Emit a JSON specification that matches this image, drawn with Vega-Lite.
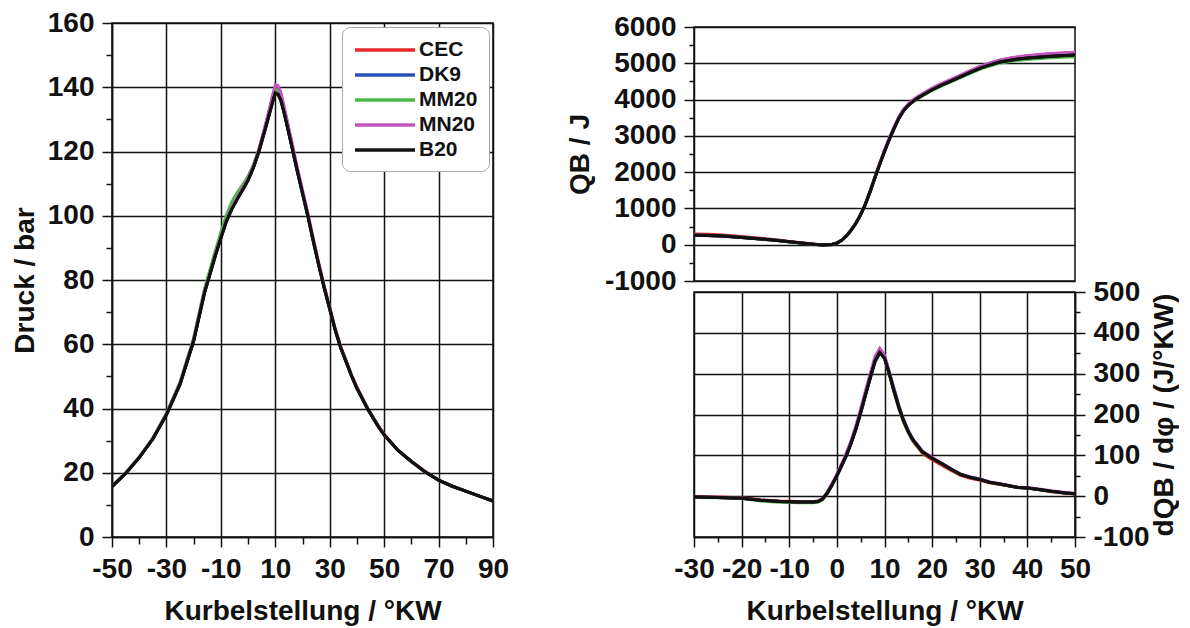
{
"$schema": "https://vega.github.io/schema/vega-lite/v6.json",
"background": "white",
"padding": {"left": 10, "top": 8, "right": 0, "bottom": 0},
"config": {
  "view": {"stroke": "#111", "strokeWidth": 1.5},
  "font": "Liberation Sans",
  "axis": {"labelFont": "Liberation Sans", "labelFontSize": 28, "labelFontWeight": "bold", "labelColor": "#111", "titleFont": "Liberation Sans", "titleFontSize": 28, "titleFontWeight": "bold", "titleColor": "#111", "tickColor": "#111", "tickWidth": 1.5, "domainColor": "#111", "domainWidth": 1.5, "gridColor": "#111", "gridWidth": 1.5, "gridOpacity": 1, "labelFlush": false, "labelOverlap": false, "labelBound": false, "labelPadding": 8, "tickSize": 10}
},
"datasets": {
"pressure": [
{"angle":-50,"fuel":"CEC","p":15.8},{"angle":-45,"fuel":"CEC","p":19.9},{"angle":-40,"fuel":"CEC","p":24.8},{"angle":-35,"fuel":"CEC","p":30.7},{"angle":-30,"fuel":"CEC","p":38.3},{"angle":-25,"fuel":"CEC","p":47.9},{"angle":-20,"fuel":"CEC","p":61.5},{"angle":-16,"fuel":"CEC","p":76.5},{"angle":-12,"fuel":"CEC","p":88.1},{"angle":-10,"fuel":"CEC","p":93.5},{"angle":-8,"fuel":"CEC","p":98.7},{"angle":-6,"fuel":"CEC","p":102.6},{"angle":-4,"fuel":"CEC","p":105.7},{"angle":-2,"fuel":"CEC","p":108.6},{"angle":0,"fuel":"CEC","p":111.6},{"angle":2,"fuel":"CEC","p":115.6},{"angle":4,"fuel":"CEC","p":120.6},{"angle":6,"fuel":"CEC","p":126.8},{"angle":8,"fuel":"CEC","p":133.4},{"angle":9,"fuel":"CEC","p":136.9},{"angle":10,"fuel":"CEC","p":140.1},{"angle":11,"fuel":"CEC","p":139.9},{"angle":12,"fuel":"CEC","p":138.0},{"angle":13,"fuel":"CEC","p":134.4},{"angle":14,"fuel":"CEC","p":130.6},{"angle":16,"fuel":"CEC","p":122.7},{"angle":18,"fuel":"CEC","p":114.8},{"angle":20,"fuel":"CEC","p":107.5},{"angle":22,"fuel":"CEC","p":100.2},{"angle":24,"fuel":"CEC","p":92.4},{"angle":26,"fuel":"CEC","p":84.9},{"angle":28,"fuel":"CEC","p":77.9},{"angle":30,"fuel":"CEC","p":71.3},{"angle":32,"fuel":"CEC","p":64.8},{"angle":34,"fuel":"CEC","p":59.3},{"angle":36,"fuel":"CEC","p":54.8},{"angle":38,"fuel":"CEC","p":50.4},{"angle":40,"fuel":"CEC","p":46.5},{"angle":44,"fuel":"CEC","p":39.9},{"angle":48,"fuel":"CEC","p":34.3},{"angle":50,"fuel":"CEC","p":31.9},{"angle":55,"fuel":"CEC","p":27.1},{"angle":60,"fuel":"CEC","p":23.6},{"angle":65,"fuel":"CEC","p":20.4},{"angle":70,"fuel":"CEC","p":17.7},{"angle":75,"fuel":"CEC","p":15.8},{"angle":80,"fuel":"CEC","p":14.3},{"angle":85,"fuel":"CEC","p":12.7},{"angle":90,"fuel":"CEC","p":11.2},
{"angle":-50,"fuel":"DK9","p":15.7},{"angle":-45,"fuel":"DK9","p":19.8},{"angle":-40,"fuel":"DK9","p":24.7},{"angle":-35,"fuel":"DK9","p":30.6},{"angle":-30,"fuel":"DK9","p":38.1},{"angle":-25,"fuel":"DK9","p":47.7},{"angle":-20,"fuel":"DK9","p":61.2},{"angle":-16,"fuel":"DK9","p":76.3},{"angle":-12,"fuel":"DK9","p":87.9},{"angle":-10,"fuel":"DK9","p":93.3},{"angle":-8,"fuel":"DK9","p":98.5},{"angle":-6,"fuel":"DK9","p":102.3},{"angle":-4,"fuel":"DK9","p":105.4},{"angle":-2,"fuel":"DK9","p":108.3},{"angle":0,"fuel":"DK9","p":111.3},{"angle":2,"fuel":"DK9","p":115.3},{"angle":4,"fuel":"DK9","p":120.3},{"angle":6,"fuel":"DK9","p":126.4},{"angle":8,"fuel":"DK9","p":132.8},{"angle":9,"fuel":"DK9","p":136.2},{"angle":10,"fuel":"DK9","p":139.3},{"angle":11,"fuel":"DK9","p":139.0},{"angle":12,"fuel":"DK9","p":137.0},{"angle":13,"fuel":"DK9","p":133.6},{"angle":14,"fuel":"DK9","p":129.8},{"angle":16,"fuel":"DK9","p":122.1},{"angle":18,"fuel":"DK9","p":114.4},{"angle":20,"fuel":"DK9","p":107.2},{"angle":22,"fuel":"DK9","p":99.9},{"angle":24,"fuel":"DK9","p":92.1},{"angle":26,"fuel":"DK9","p":84.6},{"angle":28,"fuel":"DK9","p":77.6},{"angle":30,"fuel":"DK9","p":71.1},{"angle":32,"fuel":"DK9","p":64.6},{"angle":34,"fuel":"DK9","p":59.1},{"angle":36,"fuel":"DK9","p":54.7},{"angle":38,"fuel":"DK9","p":50.2},{"angle":40,"fuel":"DK9","p":46.3},{"angle":44,"fuel":"DK9","p":39.8},{"angle":48,"fuel":"DK9","p":34.2},{"angle":50,"fuel":"DK9","p":31.8},{"angle":55,"fuel":"DK9","p":27.0},{"angle":60,"fuel":"DK9","p":23.5},{"angle":65,"fuel":"DK9","p":20.3},{"angle":70,"fuel":"DK9","p":17.7},{"angle":75,"fuel":"DK9","p":15.8},{"angle":80,"fuel":"DK9","p":14.3},{"angle":85,"fuel":"DK9","p":12.7},{"angle":90,"fuel":"DK9","p":11.2},
{"angle":-50,"fuel":"MM20","p":15.7},{"angle":-45,"fuel":"MM20","p":19.9},{"angle":-40,"fuel":"MM20","p":24.9},{"angle":-35,"fuel":"MM20","p":30.8},{"angle":-30,"fuel":"MM20","p":38.5},{"angle":-25,"fuel":"MM20","p":48.3},{"angle":-20,"fuel":"MM20","p":62.0},{"angle":-16,"fuel":"MM20","p":77.3},{"angle":-12,"fuel":"MM20","p":89.2},{"angle":-10,"fuel":"MM20","p":94.8},{"angle":-8,"fuel":"MM20","p":100.2},{"angle":-6,"fuel":"MM20","p":104.3},{"angle":-4,"fuel":"MM20","p":107.2},{"angle":-2,"fuel":"MM20","p":109.7},{"angle":0,"fuel":"MM20","p":112.3},{"angle":2,"fuel":"MM20","p":116.0},{"angle":4,"fuel":"MM20","p":120.8},{"angle":6,"fuel":"MM20","p":126.8},{"angle":8,"fuel":"MM20","p":133.2},{"angle":9,"fuel":"MM20","p":136.5},{"angle":10,"fuel":"MM20","p":139.5},{"angle":11,"fuel":"MM20","p":139.0},{"angle":12,"fuel":"MM20","p":137.0},{"angle":13,"fuel":"MM20","p":133.4},{"angle":14,"fuel":"MM20","p":129.6},{"angle":16,"fuel":"MM20","p":121.8},{"angle":18,"fuel":"MM20","p":114.0},{"angle":20,"fuel":"MM20","p":106.8},{"angle":22,"fuel":"MM20","p":99.6},{"angle":24,"fuel":"MM20","p":91.8},{"angle":26,"fuel":"MM20","p":84.3},{"angle":28,"fuel":"MM20","p":77.3},{"angle":30,"fuel":"MM20","p":70.8},{"angle":32,"fuel":"MM20","p":64.3},{"angle":34,"fuel":"MM20","p":58.9},{"angle":36,"fuel":"MM20","p":54.5},{"angle":38,"fuel":"MM20","p":50.1},{"angle":40,"fuel":"MM20","p":46.2},{"angle":44,"fuel":"MM20","p":39.7},{"angle":48,"fuel":"MM20","p":34.2},{"angle":50,"fuel":"MM20","p":31.8},{"angle":55,"fuel":"MM20","p":27.0},{"angle":60,"fuel":"MM20","p":23.5},{"angle":65,"fuel":"MM20","p":20.3},{"angle":70,"fuel":"MM20","p":17.7},{"angle":75,"fuel":"MM20","p":15.8},{"angle":80,"fuel":"MM20","p":14.3},{"angle":85,"fuel":"MM20","p":12.7},{"angle":90,"fuel":"MM20","p":11.2},
{"angle":-50,"fuel":"MN20","p":15.8},{"angle":-45,"fuel":"MN20","p":19.9},{"angle":-40,"fuel":"MN20","p":24.8},{"angle":-35,"fuel":"MN20","p":30.7},{"angle":-30,"fuel":"MN20","p":38.3},{"angle":-25,"fuel":"MN20","p":47.9},{"angle":-20,"fuel":"MN20","p":61.5},{"angle":-16,"fuel":"MN20","p":76.5},{"angle":-12,"fuel":"MN20","p":88.1},{"angle":-10,"fuel":"MN20","p":93.5},{"angle":-8,"fuel":"MN20","p":98.7},{"angle":-6,"fuel":"MN20","p":102.6},{"angle":-4,"fuel":"MN20","p":105.7},{"angle":-2,"fuel":"MN20","p":108.6},{"angle":0,"fuel":"MN20","p":111.6},{"angle":2,"fuel":"MN20","p":115.6},{"angle":4,"fuel":"MN20","p":120.7},{"angle":6,"fuel":"MN20","p":127.0},{"angle":8,"fuel":"MN20","p":133.8},{"angle":9,"fuel":"MN20","p":137.5},{"angle":10,"fuel":"MN20","p":140.7},{"angle":11,"fuel":"MN20","p":140.5},{"angle":12,"fuel":"MN20","p":138.5},{"angle":13,"fuel":"MN20","p":134.9},{"angle":14,"fuel":"MN20","p":131.1},{"angle":16,"fuel":"MN20","p":123.3},{"angle":18,"fuel":"MN20","p":115.4},{"angle":20,"fuel":"MN20","p":108.0},{"angle":22,"fuel":"MN20","p":100.7},{"angle":24,"fuel":"MN20","p":92.8},{"angle":26,"fuel":"MN20","p":85.2},{"angle":28,"fuel":"MN20","p":78.1},{"angle":30,"fuel":"MN20","p":71.5},{"angle":32,"fuel":"MN20","p":64.9},{"angle":34,"fuel":"MN20","p":59.4},{"angle":36,"fuel":"MN20","p":55.0},{"angle":38,"fuel":"MN20","p":50.5},{"angle":40,"fuel":"MN20","p":46.6},{"angle":44,"fuel":"MN20","p":40.0},{"angle":48,"fuel":"MN20","p":34.4},{"angle":50,"fuel":"MN20","p":32.0},{"angle":55,"fuel":"MN20","p":27.1},{"angle":60,"fuel":"MN20","p":23.6},{"angle":65,"fuel":"MN20","p":20.4},{"angle":70,"fuel":"MN20","p":17.8},{"angle":75,"fuel":"MN20","p":15.9},{"angle":80,"fuel":"MN20","p":14.3},{"angle":85,"fuel":"MN20","p":12.7},{"angle":90,"fuel":"MN20","p":11.2},
{"angle":-50,"fuel":"B20","p":15.7},{"angle":-45,"fuel":"B20","p":19.8},{"angle":-40,"fuel":"B20","p":24.7},{"angle":-35,"fuel":"B20","p":30.5},{"angle":-30,"fuel":"B20","p":38.0},{"angle":-25,"fuel":"B20","p":47.5},{"angle":-20,"fuel":"B20","p":61.0},{"angle":-16,"fuel":"B20","p":76.0},{"angle":-12,"fuel":"B20","p":87.6},{"angle":-10,"fuel":"B20","p":93.0},{"angle":-8,"fuel":"B20","p":98.2},{"angle":-6,"fuel":"B20","p":102.0},{"angle":-4,"fuel":"B20","p":105.1},{"angle":-2,"fuel":"B20","p":108.0},{"angle":0,"fuel":"B20","p":111.0},{"angle":2,"fuel":"B20","p":115.0},{"angle":4,"fuel":"B20","p":120.0},{"angle":6,"fuel":"B20","p":126.0},{"angle":8,"fuel":"B20","p":132.2},{"angle":9,"fuel":"B20","p":135.3},{"angle":10,"fuel":"B20","p":138.2},{"angle":11,"fuel":"B20","p":137.8},{"angle":12,"fuel":"B20","p":136.0},{"angle":13,"fuel":"B20","p":132.8},{"angle":14,"fuel":"B20","p":129.3},{"angle":16,"fuel":"B20","p":121.8},{"angle":18,"fuel":"B20","p":114.2},{"angle":20,"fuel":"B20","p":107.0},{"angle":22,"fuel":"B20","p":99.8},{"angle":24,"fuel":"B20","p":92.0},{"angle":26,"fuel":"B20","p":84.5},{"angle":28,"fuel":"B20","p":77.5},{"angle":30,"fuel":"B20","p":71.0},{"angle":32,"fuel":"B20","p":64.5},{"angle":34,"fuel":"B20","p":59.0},{"angle":36,"fuel":"B20","p":54.6},{"angle":38,"fuel":"B20","p":50.2},{"angle":40,"fuel":"B20","p":46.3},{"angle":44,"fuel":"B20","p":39.8},{"angle":48,"fuel":"B20","p":34.2},{"angle":50,"fuel":"B20","p":31.8},{"angle":55,"fuel":"B20","p":27.0},{"angle":60,"fuel":"B20","p":23.5},{"angle":65,"fuel":"B20","p":20.3},{"angle":70,"fuel":"B20","p":17.7},{"angle":75,"fuel":"B20","p":15.8},{"angle":80,"fuel":"B20","p":14.3},{"angle":85,"fuel":"B20","p":12.7},{"angle":90,"fuel":"B20","p":11.2}
],
"heat": [
{"angle":-30,"fuel":"CEC","q":292},{"angle":-27,"fuel":"CEC","q":285},{"angle":-24,"fuel":"CEC","q":268},{"angle":-20,"fuel":"CEC","q":225},{"angle":-16,"fuel":"CEC","q":180},{"angle":-12,"fuel":"CEC","q":125},{"angle":-10,"fuel":"CEC","q":92},{"angle":-8,"fuel":"CEC","q":62},{"angle":-5,"fuel":"CEC","q":18},{"angle":-3,"fuel":"CEC","q":-8},{"angle":-1,"fuel":"CEC","q":8},{"angle":0,"fuel":"CEC","q":48},{"angle":1,"fuel":"CEC","q":123},{"angle":2,"fuel":"CEC","q":243},{"angle":3,"fuel":"CEC","q":403},{"angle":4,"fuel":"CEC","q":593},{"angle":5,"fuel":"CEC","q":833},{"angle":6,"fuel":"CEC","q":1123},{"angle":7,"fuel":"CEC","q":1473},{"angle":8,"fuel":"CEC","q":1853},{"angle":9,"fuel":"CEC","q":2223},{"angle":10,"fuel":"CEC","q":2575},{"angle":11,"fuel":"CEC","q":2910},{"angle":12,"fuel":"CEC","q":3215},{"angle":13,"fuel":"CEC","q":3500},{"angle":14,"fuel":"CEC","q":3715},{"angle":15,"fuel":"CEC","q":3865},{"angle":16,"fuel":"CEC","q":3975},{"angle":17,"fuel":"CEC","q":4065},{"angle":18,"fuel":"CEC","q":4145},{"angle":20,"fuel":"CEC","q":4290},{"angle":22,"fuel":"CEC","q":4425},{"angle":25,"fuel":"CEC","q":4600},{"angle":28,"fuel":"CEC","q":4790},{"angle":30,"fuel":"CEC","q":4900},{"angle":32,"fuel":"CEC","q":4995},{"angle":34,"fuel":"CEC","q":5075},{"angle":37,"fuel":"CEC","q":5150},{"angle":40,"fuel":"CEC","q":5200},{"angle":45,"fuel":"CEC","q":5260},{"angle":50,"fuel":"CEC","q":5300},
{"angle":-30,"fuel":"DK9","q":265},{"angle":-27,"fuel":"DK9","q":258},{"angle":-24,"fuel":"DK9","q":243},{"angle":-20,"fuel":"DK9","q":203},{"angle":-16,"fuel":"DK9","q":163},{"angle":-12,"fuel":"DK9","q":113},{"angle":-10,"fuel":"DK9","q":83},{"angle":-8,"fuel":"DK9","q":57},{"angle":-5,"fuel":"DK9","q":16},{"angle":-3,"fuel":"DK9","q":-9},{"angle":-1,"fuel":"DK9","q":6},{"angle":0,"fuel":"DK9","q":46},{"angle":1,"fuel":"DK9","q":121},{"angle":2,"fuel":"DK9","q":241},{"angle":3,"fuel":"DK9","q":401},{"angle":4,"fuel":"DK9","q":591},{"angle":5,"fuel":"DK9","q":831},{"angle":6,"fuel":"DK9","q":1121},{"angle":7,"fuel":"DK9","q":1472},{"angle":8,"fuel":"DK9","q":1852},{"angle":9,"fuel":"DK9","q":2225},{"angle":10,"fuel":"DK9","q":2575},{"angle":11,"fuel":"DK9","q":2905},{"angle":12,"fuel":"DK9","q":3205},{"angle":13,"fuel":"DK9","q":3485},{"angle":14,"fuel":"DK9","q":3695},{"angle":15,"fuel":"DK9","q":3847},{"angle":16,"fuel":"DK9","q":3958},{"angle":17,"fuel":"DK9","q":4050},{"angle":18,"fuel":"DK9","q":4132},{"angle":20,"fuel":"DK9","q":4282},{"angle":22,"fuel":"DK9","q":4413},{"angle":25,"fuel":"DK9","q":4585},{"angle":28,"fuel":"DK9","q":4765},{"angle":30,"fuel":"DK9","q":4878},{"angle":32,"fuel":"DK9","q":4968},{"angle":34,"fuel":"DK9","q":5050},{"angle":37,"fuel":"DK9","q":5122},{"angle":40,"fuel":"DK9","q":5170},{"angle":45,"fuel":"DK9","q":5223},{"angle":50,"fuel":"DK9","q":5255},
{"angle":-30,"fuel":"MM20","q":260},{"angle":-27,"fuel":"MM20","q":252},{"angle":-24,"fuel":"MM20","q":237},{"angle":-20,"fuel":"MM20","q":197},{"angle":-16,"fuel":"MM20","q":156},{"angle":-12,"fuel":"MM20","q":106},{"angle":-10,"fuel":"MM20","q":76},{"angle":-8,"fuel":"MM20","q":50},{"angle":-5,"fuel":"MM20","q":10},{"angle":-3,"fuel":"MM20","q":-14},{"angle":-1,"fuel":"MM20","q":2},{"angle":0,"fuel":"MM20","q":44},{"angle":1,"fuel":"MM20","q":122},{"angle":2,"fuel":"MM20","q":244},{"angle":3,"fuel":"MM20","q":405},{"angle":4,"fuel":"MM20","q":595},{"angle":5,"fuel":"MM20","q":834},{"angle":6,"fuel":"MM20","q":1123},{"angle":7,"fuel":"MM20","q":1472},{"angle":8,"fuel":"MM20","q":1850},{"angle":9,"fuel":"MM20","q":2222},{"angle":10,"fuel":"MM20","q":2572},{"angle":11,"fuel":"MM20","q":2902},{"angle":12,"fuel":"MM20","q":3202},{"angle":13,"fuel":"MM20","q":3480},{"angle":14,"fuel":"MM20","q":3688},{"angle":15,"fuel":"MM20","q":3835},{"angle":16,"fuel":"MM20","q":3940},{"angle":17,"fuel":"MM20","q":4028},{"angle":18,"fuel":"MM20","q":4105},{"angle":20,"fuel":"MM20","q":4252},{"angle":22,"fuel":"MM20","q":4380},{"angle":25,"fuel":"MM20","q":4548},{"angle":28,"fuel":"MM20","q":4722},{"angle":30,"fuel":"MM20","q":4832},{"angle":32,"fuel":"MM20","q":4920},{"angle":34,"fuel":"MM20","q":4998},{"angle":37,"fuel":"MM20","q":5065},{"angle":40,"fuel":"MM20","q":5107},{"angle":45,"fuel":"MM20","q":5155},{"angle":50,"fuel":"MM20","q":5183},
{"angle":-30,"fuel":"MN20","q":258},{"angle":-27,"fuel":"MN20","q":250},{"angle":-24,"fuel":"MN20","q":236},{"angle":-20,"fuel":"MN20","q":196},{"angle":-16,"fuel":"MN20","q":157},{"angle":-12,"fuel":"MN20","q":108},{"angle":-10,"fuel":"MN20","q":78},{"angle":-8,"fuel":"MN20","q":53},{"angle":-5,"fuel":"MN20","q":14},{"angle":-3,"fuel":"MN20","q":-10},{"angle":-1,"fuel":"MN20","q":6},{"angle":0,"fuel":"MN20","q":48},{"angle":1,"fuel":"MN20","q":125},{"angle":2,"fuel":"MN20","q":248},{"angle":3,"fuel":"MN20","q":410},{"angle":4,"fuel":"MN20","q":602},{"angle":5,"fuel":"MN20","q":845},{"angle":6,"fuel":"MN20","q":1140},{"angle":7,"fuel":"MN20","q":1495},{"angle":8,"fuel":"MN20","q":1880},{"angle":9,"fuel":"MN20","q":2255},{"angle":10,"fuel":"MN20","q":2610},{"angle":11,"fuel":"MN20","q":2945},{"angle":12,"fuel":"MN20","q":3245},{"angle":13,"fuel":"MN20","q":3525},{"angle":14,"fuel":"MN20","q":3735},{"angle":15,"fuel":"MN20","q":3885},{"angle":16,"fuel":"MN20","q":3995},{"angle":17,"fuel":"MN20","q":4085},{"angle":18,"fuel":"MN20","q":4165},{"angle":20,"fuel":"MN20","q":4315},{"angle":22,"fuel":"MN20","q":4447},{"angle":25,"fuel":"MN20","q":4620},{"angle":28,"fuel":"MN20","q":4800},{"angle":30,"fuel":"MN20","q":4915},{"angle":32,"fuel":"MN20","q":5005},{"angle":34,"fuel":"MN20","q":5085},{"angle":37,"fuel":"MN20","q":5160},{"angle":40,"fuel":"MN20","q":5215},{"angle":45,"fuel":"MN20","q":5270},{"angle":50,"fuel":"MN20","q":5305},
{"angle":-30,"fuel":"B20","q":262},{"angle":-27,"fuel":"B20","q":255},{"angle":-24,"fuel":"B20","q":240},{"angle":-20,"fuel":"B20","q":200},{"angle":-16,"fuel":"B20","q":160},{"angle":-12,"fuel":"B20","q":110},{"angle":-10,"fuel":"B20","q":80},{"angle":-8,"fuel":"B20","q":55},{"angle":-5,"fuel":"B20","q":15},{"angle":-3,"fuel":"B20","q":-10},{"angle":-1,"fuel":"B20","q":5},{"angle":0,"fuel":"B20","q":45},{"angle":1,"fuel":"B20","q":120},{"angle":2,"fuel":"B20","q":240},{"angle":3,"fuel":"B20","q":400},{"angle":4,"fuel":"B20","q":590},{"angle":5,"fuel":"B20","q":830},{"angle":6,"fuel":"B20","q":1120},{"angle":7,"fuel":"B20","q":1470},{"angle":8,"fuel":"B20","q":1850},{"angle":9,"fuel":"B20","q":2220},{"angle":10,"fuel":"B20","q":2570},{"angle":11,"fuel":"B20","q":2900},{"angle":12,"fuel":"B20","q":3200},{"angle":13,"fuel":"B20","q":3480},{"angle":14,"fuel":"B20","q":3690},{"angle":15,"fuel":"B20","q":3840},{"angle":16,"fuel":"B20","q":3950},{"angle":17,"fuel":"B20","q":4040},{"angle":18,"fuel":"B20","q":4120},{"angle":20,"fuel":"B20","q":4270},{"angle":22,"fuel":"B20","q":4400},{"angle":25,"fuel":"B20","q":4570},{"angle":28,"fuel":"B20","q":4750},{"angle":30,"fuel":"B20","q":4860},{"angle":32,"fuel":"B20","q":4950},{"angle":34,"fuel":"B20","q":5030},{"angle":37,"fuel":"B20","q":5100},{"angle":40,"fuel":"B20","q":5145},{"angle":45,"fuel":"B20","q":5195},{"angle":50,"fuel":"B20","q":5225}
],
"rate": [
{"angle":-30,"fuel":"CEC","r":-1},{"angle":-25,"fuel":"CEC","r":-2},{"angle":-20,"fuel":"CEC","r":-4},{"angle":-16,"fuel":"CEC","r":-9},{"angle":-12,"fuel":"CEC","r":-12},{"angle":-8,"fuel":"CEC","r":-13},{"angle":-5,"fuel":"CEC","r":-13},{"angle":-4,"fuel":"CEC","r":-12},{"angle":-3,"fuel":"CEC","r":-6},{"angle":-2,"fuel":"CEC","r":9},{"angle":-1,"fuel":"CEC","r":29},{"angle":0,"fuel":"CEC","r":51},{"angle":1,"fuel":"CEC","r":76},{"angle":2,"fuel":"CEC","r":101},{"angle":3,"fuel":"CEC","r":131},{"angle":4,"fuel":"CEC","r":166},{"angle":5,"fuel":"CEC","r":206},{"angle":6,"fuel":"CEC","r":250},{"angle":7,"fuel":"CEC","r":293},{"angle":8,"fuel":"CEC","r":334},{"angle":9,"fuel":"CEC","r":356},{"angle":10,"fuel":"CEC","r":340},{"angle":11,"fuel":"CEC","r":300},{"angle":12,"fuel":"CEC","r":256},{"angle":13,"fuel":"CEC","r":215},{"angle":14,"fuel":"CEC","r":182},{"angle":15,"fuel":"CEC","r":155},{"angle":16,"fuel":"CEC","r":134},{"angle":18,"fuel":"CEC","r":104},{"angle":20,"fuel":"CEC","r":89},{"angle":22,"fuel":"CEC","r":76},{"angle":24,"fuel":"CEC","r":63},{"angle":26,"fuel":"CEC","r":51},{"angle":28,"fuel":"CEC","r":44},{"angle":30,"fuel":"CEC","r":39},{"angle":32,"fuel":"CEC","r":33},{"angle":35,"fuel":"CEC","r":27},{"angle":38,"fuel":"CEC","r":22},{"angle":40,"fuel":"CEC","r":21},{"angle":42,"fuel":"CEC","r":17},{"angle":45,"fuel":"CEC","r":11},{"angle":48,"fuel":"CEC","r":7},{"angle":50,"fuel":"CEC","r":5},
{"angle":-30,"fuel":"DK9","r":-2},{"angle":-25,"fuel":"DK9","r":-3},{"angle":-20,"fuel":"DK9","r":-5},{"angle":-16,"fuel":"DK9","r":-10},{"angle":-12,"fuel":"DK9","r":-13},{"angle":-8,"fuel":"DK9","r":-14},{"angle":-5,"fuel":"DK9","r":-14},{"angle":-4,"fuel":"DK9","r":-13},{"angle":-3,"fuel":"DK9","r":-7},{"angle":-2,"fuel":"DK9","r":7},{"angle":-1,"fuel":"DK9","r":27},{"angle":0,"fuel":"DK9","r":49},{"angle":1,"fuel":"DK9","r":74},{"angle":2,"fuel":"DK9","r":99},{"angle":3,"fuel":"DK9","r":129},{"angle":4,"fuel":"DK9","r":163},{"angle":5,"fuel":"DK9","r":203},{"angle":6,"fuel":"DK9","r":246},{"angle":7,"fuel":"DK9","r":288},{"angle":8,"fuel":"DK9","r":328},{"angle":9,"fuel":"DK9","r":350},{"angle":10,"fuel":"DK9","r":342},{"angle":11,"fuel":"DK9","r":305},{"angle":12,"fuel":"DK9","r":263},{"angle":13,"fuel":"DK9","r":222},{"angle":14,"fuel":"DK9","r":188},{"angle":15,"fuel":"DK9","r":160},{"angle":16,"fuel":"DK9","r":139},{"angle":18,"fuel":"DK9","r":109},{"angle":20,"fuel":"DK9","r":93},{"angle":22,"fuel":"DK9","r":80},{"angle":24,"fuel":"DK9","r":66},{"angle":26,"fuel":"DK9","r":54},{"angle":28,"fuel":"DK9","r":47},{"angle":30,"fuel":"DK9","r":42},{"angle":32,"fuel":"DK9","r":35},{"angle":35,"fuel":"DK9","r":28},{"angle":38,"fuel":"DK9","r":21},{"angle":40,"fuel":"DK9","r":20},{"angle":42,"fuel":"DK9","r":17},{"angle":45,"fuel":"DK9","r":12},{"angle":48,"fuel":"DK9","r":8},{"angle":50,"fuel":"DK9","r":6},
{"angle":-30,"fuel":"MM20","r":-3},{"angle":-25,"fuel":"MM20","r":-4},{"angle":-20,"fuel":"MM20","r":-6},{"angle":-16,"fuel":"MM20","r":-12},{"angle":-12,"fuel":"MM20","r":-15},{"angle":-8,"fuel":"MM20","r":-16},{"angle":-5,"fuel":"MM20","r":-16},{"angle":-4,"fuel":"MM20","r":-15},{"angle":-3,"fuel":"MM20","r":-9},{"angle":-2,"fuel":"MM20","r":6},{"angle":-1,"fuel":"MM20","r":27},{"angle":0,"fuel":"MM20","r":50},{"angle":1,"fuel":"MM20","r":76},{"angle":2,"fuel":"MM20","r":101},{"angle":3,"fuel":"MM20","r":131},{"angle":4,"fuel":"MM20","r":166},{"angle":5,"fuel":"MM20","r":206},{"angle":6,"fuel":"MM20","r":249},{"angle":7,"fuel":"MM20","r":291},{"angle":8,"fuel":"MM20","r":331},{"angle":9,"fuel":"MM20","r":352},{"angle":10,"fuel":"MM20","r":337},{"angle":11,"fuel":"MM20","r":298},{"angle":12,"fuel":"MM20","r":255},{"angle":13,"fuel":"MM20","r":215},{"angle":14,"fuel":"MM20","r":182},{"angle":15,"fuel":"MM20","r":156},{"angle":16,"fuel":"MM20","r":135},{"angle":18,"fuel":"MM20","r":107},{"angle":20,"fuel":"MM20","r":93},{"angle":22,"fuel":"MM20","r":80},{"angle":24,"fuel":"MM20","r":66},{"angle":26,"fuel":"MM20","r":53},{"angle":28,"fuel":"MM20","r":46},{"angle":30,"fuel":"MM20","r":41},{"angle":32,"fuel":"MM20","r":34},{"angle":35,"fuel":"MM20","r":28},{"angle":38,"fuel":"MM20","r":21},{"angle":40,"fuel":"MM20","r":20},{"angle":42,"fuel":"MM20","r":17},{"angle":45,"fuel":"MM20","r":12},{"angle":48,"fuel":"MM20","r":8},{"angle":50,"fuel":"MM20","r":6},
{"angle":-30,"fuel":"MN20","r":-2},{"angle":-25,"fuel":"MN20","r":-3},{"angle":-20,"fuel":"MN20","r":-5},{"angle":-16,"fuel":"MN20","r":-10},{"angle":-12,"fuel":"MN20","r":-13},{"angle":-8,"fuel":"MN20","r":-14},{"angle":-5,"fuel":"MN20","r":-14},{"angle":-4,"fuel":"MN20","r":-13},{"angle":-3,"fuel":"MN20","r":-6},{"angle":-2,"fuel":"MN20","r":10},{"angle":-1,"fuel":"MN20","r":31},{"angle":0,"fuel":"MN20","r":54},{"angle":1,"fuel":"MN20","r":80},{"angle":2,"fuel":"MN20","r":106},{"angle":3,"fuel":"MN20","r":137},{"angle":4,"fuel":"MN20","r":173},{"angle":5,"fuel":"MN20","r":214},{"angle":6,"fuel":"MN20","r":258},{"angle":7,"fuel":"MN20","r":300},{"angle":8,"fuel":"MN20","r":342},{"angle":9,"fuel":"MN20","r":362},{"angle":10,"fuel":"MN20","r":346},{"angle":11,"fuel":"MN20","r":305},{"angle":12,"fuel":"MN20","r":262},{"angle":13,"fuel":"MN20","r":221},{"angle":14,"fuel":"MN20","r":188},{"angle":15,"fuel":"MN20","r":160},{"angle":16,"fuel":"MN20","r":139},{"angle":18,"fuel":"MN20","r":110},{"angle":20,"fuel":"MN20","r":95},{"angle":22,"fuel":"MN20","r":81},{"angle":24,"fuel":"MN20","r":67},{"angle":26,"fuel":"MN20","r":54},{"angle":28,"fuel":"MN20","r":47},{"angle":30,"fuel":"MN20","r":42},{"angle":32,"fuel":"MN20","r":35},{"angle":35,"fuel":"MN20","r":29},{"angle":38,"fuel":"MN20","r":22},{"angle":40,"fuel":"MN20","r":21},{"angle":42,"fuel":"MN20","r":18},{"angle":45,"fuel":"MN20","r":13},{"angle":48,"fuel":"MN20","r":9},{"angle":50,"fuel":"MN20","r":7},
{"angle":-30,"fuel":"B20","r":-2},{"angle":-25,"fuel":"B20","r":-3},{"angle":-20,"fuel":"B20","r":-5},{"angle":-16,"fuel":"B20","r":-10},{"angle":-12,"fuel":"B20","r":-13},{"angle":-8,"fuel":"B20","r":-14},{"angle":-5,"fuel":"B20","r":-14},{"angle":-4,"fuel":"B20","r":-13},{"angle":-3,"fuel":"B20","r":-7},{"angle":-2,"fuel":"B20","r":8},{"angle":-1,"fuel":"B20","r":28},{"angle":0,"fuel":"B20","r":50},{"angle":1,"fuel":"B20","r":75},{"angle":2,"fuel":"B20","r":100},{"angle":3,"fuel":"B20","r":130},{"angle":4,"fuel":"B20","r":165},{"angle":5,"fuel":"B20","r":205},{"angle":6,"fuel":"B20","r":248},{"angle":7,"fuel":"B20","r":290},{"angle":8,"fuel":"B20","r":330},{"angle":9,"fuel":"B20","r":352},{"angle":10,"fuel":"B20","r":338},{"angle":11,"fuel":"B20","r":300},{"angle":12,"fuel":"B20","r":258},{"angle":13,"fuel":"B20","r":218},{"angle":14,"fuel":"B20","r":185},{"angle":15,"fuel":"B20","r":158},{"angle":16,"fuel":"B20","r":137},{"angle":18,"fuel":"B20","r":108},{"angle":20,"fuel":"B20","r":93},{"angle":22,"fuel":"B20","r":80},{"angle":24,"fuel":"B20","r":66},{"angle":26,"fuel":"B20","r":53},{"angle":28,"fuel":"B20","r":46},{"angle":30,"fuel":"B20","r":41},{"angle":32,"fuel":"B20","r":34},{"angle":35,"fuel":"B20","r":28},{"angle":38,"fuel":"B20","r":21},{"angle":40,"fuel":"B20","r":20},{"angle":42,"fuel":"B20","r":17},{"angle":45,"fuel":"B20","r":12},{"angle":48,"fuel":"B20","r":8},{"angle":50,"fuel":"B20","r":6}
]
},
"hconcat": [
{
  "width": 381, "height": 514,
  "data": {"name": "pressure"},
  "layer": [
    {"mark": {"type": "line", "strokeWidth": 3},
     "encoding": {
       "x": {"field": "angle", "type": "quantitative", "scale": {"domain": [-50, 90], "nice": false, "zero": false},
             "axis": {"title": "Kurbelstellung / °KW", "values": [-50, -30, -10, 10, 30, 50, 70, 90], "grid": true, "labelExpr": "'' + datum.value", "titlePadding": 14}},
       "y": {"field": "p", "type": "quantitative", "scale": {"domain": [0, 160], "nice": false, "zero": false},
             "axis": {"title": "Druck / bar", "values": [0, 20, 40, 60, 80, 100, 120, 140, 160], "grid": true, "labelExpr": "'' + datum.value", "titlePadding": 8}},
       "color": {"field": "fuel", "type": "nominal",
                 "scale": {"domain": ["CEC", "DK9", "MM20", "MN20", "B20"], "range": ["#e8262a", "#2a52b8", "#4cb847", "#c454c0", "#111111"]},
                 "legend": {"title": null, "orient": "none", "direction": "vertical", "legendX": 230, "legendY": 4, "symbolType": "M-1,0H5", "symbolSize": 400, "symbolStrokeWidth": 3.5, "labelFont": "Liberation Sans", "labelFontSize": 21, "labelFontWeight": "bold", "labelColor": "#111", "padding": 11, "rowPadding": 3, "labelOffset": 42, "strokeColor": "#aaaaaa", "fillColor": "white", "cornerRadius": 8}}
     }},
    {"transform": [{"filter": "datum.fuel === 'B20'"}],
     "mark": {"type": "line", "strokeWidth": 3, "color": "#111111"},
     "encoding": {
       "x": {"field": "angle", "type": "quantitative", "axis": {"orient": "bottom", "values": [-40, -20, 0, 20, 40, 60, 80], "labels": false, "grid": false, "domain": false, "tickSize": 7, "title": null}},
       "y": {"field": "p", "type": "quantitative", "axis": {"orient": "left", "values": [10, 30, 50, 70, 90, 110, 130, 150], "labels": false, "grid": false, "domain": false, "tickSize": 6, "title": null}}
     }}
  ],
  "resolve": {"axis": {"x": "independent", "y": "independent"}}
},
{
  "vconcat": [
    {"width": 381, "height": 1, "data": {"values": []}, "mark": "point", "view": {"stroke": null}},
    {
      "vconcat": [
        {
          "width": 381, "height": 254,
          "data": {"name": "heat"},
          "layer": [
            {"mark": {"type": "line", "strokeWidth": 3},
             "encoding": {
               "x": {"field": "angle", "type": "quantitative", "scale": {"domain": [-30, 50], "nice": false, "zero": false},
                     "axis": {"title": null, "values": [-30, -20, -10, 0, 10, 20, 30, 40, 50], "labels": false, "ticks": false, "grid": true}},
               "y": {"field": "q", "type": "quantitative", "scale": {"domain": [-1000, 6000], "nice": false, "zero": false},
                     "axis": {"title": "QB / J", "values": [-1000, 0, 1000, 2000, 3000, 4000, 5000, 6000], "grid": true, "labelExpr": "'' + datum.value", "titlePadding": 10}},
               "color": {"field": "fuel", "type": "nominal",
                         "scale": {"domain": ["CEC", "DK9", "MM20", "MN20", "B20"], "range": ["#e8262a", "#2a52b8", "#4cb847", "#c454c0", "#111111"]},
                         "legend": null}
             }},
            {"transform": [{"filter": "datum.fuel === 'B20'"}],
             "mark": {"type": "line", "strokeWidth": 3, "color": "#111111"},
             "encoding": {
               "x": {"field": "angle", "type": "quantitative", "axis": null},
               "y": {"field": "q", "type": "quantitative", "axis": {"orient": "left", "values": [-500, 500, 1500, 2500, 3500, 4500, 5500], "labels": false, "grid": false, "domain": false, "tickSize": 5, "title": null}}
             }}
          ],
          "resolve": {"axis": {"y": "independent"}}
        },
        {
          "width": 381, "height": 245,
          "data": {"name": "rate"},
          "layer": [
            {"mark": {"type": "line", "strokeWidth": 3},
             "encoding": {
               "x": {"field": "angle", "type": "quantitative", "scale": {"domain": [-30, 50], "nice": false, "zero": false},
                     "axis": {"title": "Kurbelstellung / °KW", "values": [-30, -20, -10, 0, 10, 20, 30, 40, 50], "grid": true, "labelExpr": "'' + datum.value", "titlePadding": 14}},
               "y": {"field": "r", "type": "quantitative", "scale": {"domain": [-100, 500], "nice": false, "zero": false},
                     "axis": {"orient": "right", "title": "dQB / dφ / (J/°KW)", "titleAngle": 270, "titleBaseline": "top", "values": [-100, 0, 100, 200, 300, 400, 500], "grid": true, "labelExpr": "'' + datum.value", "titlePadding": 1}},
               "color": {"field": "fuel", "type": "nominal",
                         "scale": {"domain": ["CEC", "DK9", "MM20", "MN20", "B20"], "range": ["#e8262a", "#2a52b8", "#4cb847", "#c454c0", "#111111"]},
                         "legend": null}
             }},
            {"transform": [{"filter": "datum.fuel === 'B20'"}],
             "mark": {"type": "line", "strokeWidth": 3, "color": "#111111"},
             "encoding": {
               "x": {"field": "angle", "type": "quantitative", "axis": {"orient": "bottom", "values": [-25, -15, -5, 5, 15, 25, 35, 45], "labels": false, "grid": false, "domain": false, "tickSize": 5, "title": null}},
               "y": {"field": "r", "type": "quantitative", "axis": {"orient": "right", "values": [-50, 50, 150, 250, 350, 450], "labels": false, "grid": false, "domain": false, "tickSize": 5, "title": null}}
             }}
          ],
          "resolve": {"axis": {"x": "independent", "y": "independent"}}
        }
      ],
      "spacing": 11,
      "bounds": "flush"
    }
  ],
  "spacing": 3,
  "bounds": "flush"
}
],
"spacing": 201,
"bounds": "flush",
"resolve": {"scale": {"color": "independent"}, "legend": {"color": "independent"}}
}
